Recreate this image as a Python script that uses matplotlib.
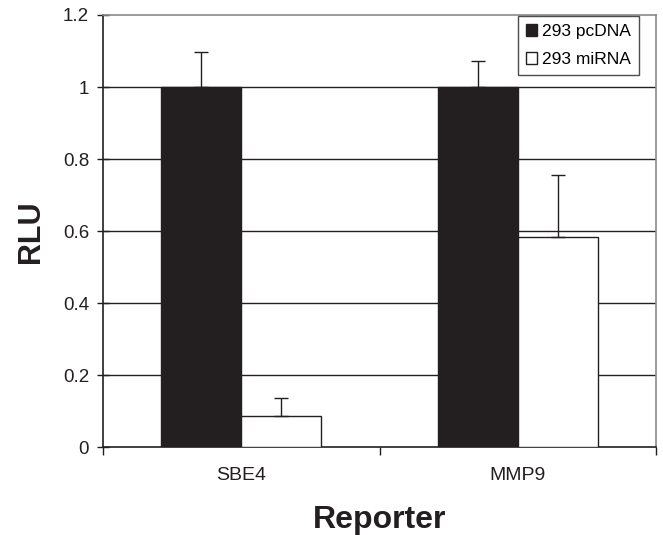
import matplotlib
matplotlib.use("Agg")
import matplotlib.pyplot as plt
import numpy as np

plt.rcParams['font.family'] = ['Liberation Sans', 'DejaVu Sans']

categories = ["SBE4", "MMP9"]
series_names = ["293 pcDNA", "293 miRNA"]
pcdna_vals = [1.0, 1.0]
pcdna_err = [0.097, 0.072]
mirna_vals = [0.088, 0.585]
mirna_err = [0.05, 0.172]
yticks = [0, 0.2, 0.4, 0.6, 0.8, 1.0, 1.2]
yticklabels = ["0", "0.2", "0.4", "0.6", "0.8", "1", "1.2"]

fig = plt.figure(figsize=(6.63, 5.35), dpi=100)
ax = fig.add_axes([0.1554, 0.1636, 0.834, 0.8084])

x = np.arange(len(categories))
w = 0.29
ax.bar(x - w/2, pcdna_vals, w, color="#231f20", edgecolor="#231f20", linewidth=1,
       label=series_names[0], zorder=3)
ax.bar(x + w/2, mirna_vals, w, color="white", edgecolor="#231f20", linewidth=1,
       label=series_names[1], zorder=3)
ax.errorbar(x - w/2, pcdna_vals, yerr=[np.zeros(2), pcdna_err], fmt="none",
            ecolor="#231f20", elinewidth=1, capsize=4.7, capthick=1, zorder=2)
ax.errorbar(x + w/2, mirna_vals, yerr=[np.zeros(2), mirna_err], fmt="none",
            ecolor="#231f20", elinewidth=1, capsize=4.7, capthick=1, zorder=4)

ax.set_xlim(-0.5, 1.5)
ax.set_ylim(0, 1.2)
ax.set_yticks(yticks)
ax.set_yticklabels(yticklabels)
for yv in yticks[1:-1]:
    ax.axhline(yv, color="#231f20", linewidth=1, zorder=1)

ax.set_xticks(x)
ax.set_xticklabels(categories)
ax.set_xticks([-0.5, 0.5, 1.5], minor=True)
ax.tick_params(axis="x", which="major", length=0, pad=14, labelsize=14, colors="#231f20")
ax.tick_params(axis="x", which="minor", length=6, width=1, direction="out", color="#231f20")
ax.tick_params(axis="y", length=8, width=1, direction="inout", labelsize=13.5, pad=6, colors="#231f20")

for s in ["left", "bottom"]:
    ax.spines[s].set_color("#231f20")
    ax.spines[s].set_linewidth(1.2)
for s in ["top", "right"]:
    ax.spines[s].set_color("#8a8a8a")
    ax.spines[s].set_linewidth(1.2)

ax.set_ylabel("RLU", fontsize=22, fontweight="bold", labelpad=12, color="#231f20")
ax.set_xlabel("Reporter", fontsize=23, fontweight="bold", labelpad=15, color="#231f20")

leg = ax.legend(loc="upper right", bbox_to_anchor=(0.969, 0.997), fontsize=12.5,
                frameon=True, fancybox=False, edgecolor="#231f20",
                handlelength=0.65, handleheight=0.65, handletextpad=0.3,
                borderpad=0.45, labelspacing=0.75, borderaxespad=0)
leg.get_frame().set_linewidth(1)

fig.savefig("out.png", dpi=100)
